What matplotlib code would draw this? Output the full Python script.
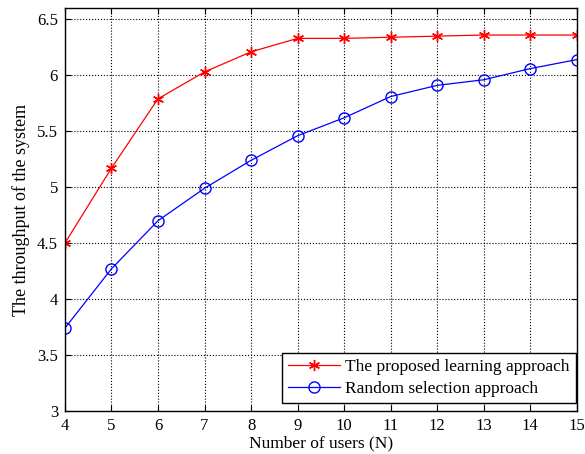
import matplotlib.pyplot as plt

plt.rcParams['font.family'] = ['Liberation Serif', 'DejaVu Serif']
plt.rcParams['mathtext.fontset'] = 'stix'

users = [4, 5, 6, 7, 8, 9, 10, 11, 12, 13, 14, 15]
proposed = [4.50, 5.17, 5.79, 6.03, 6.21, 6.33, 6.33, 6.34, 6.35, 6.36, 6.36, 6.36]
random_sel = [3.74, 4.27, 4.70, 4.99, 5.24, 5.46, 5.62, 5.81, 5.91, 5.96, 6.06, 6.14]

fig = plt.figure(figsize=(5.85, 4.54), dpi=100)
ax = fig.add_axes([0.111, 0.095, 0.875, 0.887])

ax.plot(users, proposed, color='red', linewidth=0.9, marker=(6, 2, 0),
        markersize=8, markeredgewidth=1.0, label='The proposed learning approach')
ax.plot(users, random_sel, color='blue', linewidth=0.9, marker='o',
        markersize=8, markerfacecolor='none', markeredgewidth=1.0,
        label='Random selection approach')

ax.set_xlim(4, 15)
ax.set_ylim(3, 6.6)
ax.set_xticks(range(4, 16))
ax.set_yticks([3, 3.5, 4, 4.5, 5, 5.5, 6, 6.5])
ax.set_yticklabels(['3', '3.5', '4', '4.5', '5', '5.5', '6', '6.5'])

ax.grid(True, color='black', linestyle=':', linewidth=0.8)
ax.tick_params(direction='in', top=True, right=True, length=4, width=0.8,
               labelsize=12, pad=5)
for s in ax.spines.values():
    s.set_linewidth(1.0)

ax.set_xlabel('Number of users (N)', fontsize=12.5, labelpad=1)
ax.set_ylabel('The throughput of the system', fontsize=13, labelpad=5)

leg = ax.legend(loc='lower right', bbox_to_anchor=(0.998, 0.02),
                fontsize=12.5, fancybox=False, framealpha=1,
                edgecolor='black', borderaxespad=0, handlelength=3.0,
                handletextpad=0.3, borderpad=0.35, labelspacing=0.3)
leg.get_frame().set_linewidth(1.0)

plt.savefig('out.png', dpi=100)
